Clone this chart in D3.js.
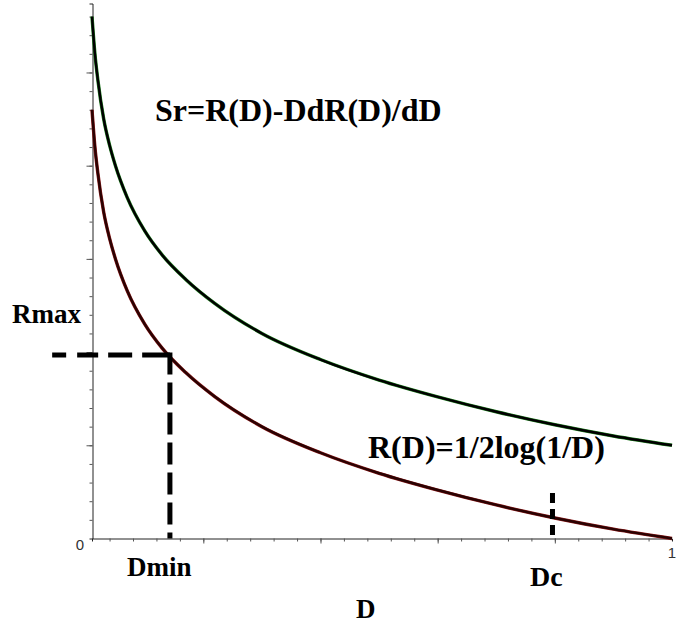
<!DOCTYPE html>
<html>
<head>
<meta charset="utf-8">
<script src="https://cdn.jsdelivr.net/npm/d3@7"></script>
<style>
  body { margin: 0; background: #fff; }
</style>
</head>
<body>
<script>
// values
var dValues  = [0.01, 0.015, 0.02, 0.03, 0.04, 0.05, 0.07, 0.1, 0.13, 0.17, 0.22, 0.3, 0.4, 0.5, 0.6, 0.7, 0.8, 0.9, 1.0];
var rValues  = [2.30, 2.10, 1.96, 1.75, 1.61, 1.50, 1.33, 1.15, 1.02, 0.89, 0.76, 0.60, 0.46, 0.35, 0.26, 0.18, 0.11, 0.05, 0.00];
var srValues = [2.80, 2.60, 2.46, 2.25, 2.11, 2.00, 1.83, 1.65, 1.52, 1.39, 1.26, 1.10, 0.96, 0.85, 0.76, 0.68, 0.61, 0.55, 0.50];

// marker positions (D, R)
var dMin = 0.143, rMax = 0.984, rMaxLineStart = -0.058;
var dC = 0.796, dCTop = 0.244;

// tick values
var xMinorTicks = d3.range(0.04, 0.99, 0.04);
var xMajorTicks = [0.2, 0.4, 0.6, 0.8];
var yMinorTicks = d3.range(0.1, 2.85, 0.1);
var yMajorTicks = [0.5, 1, 1.5, 2, 2.5];

var serif = "'Liberation Serif', 'Times New Roman', 'DejaVu Serif', serif";
var sans = "'Liberation Sans', Arial, 'DejaVu Sans', sans-serif";

var svg = d3.select("body").append("svg").attr("width", 685).attr("height", 624);

// scales
var x = d3.scaleLinear().domain([0.01, 1]).range([92, 672]);
var y = d3.scaleLinear().domain([0, 2.87]).range([538.5, 3.5]);

// x axis
svg.append("g").attr("transform", "translate(0,538.5)")
    .call(d3.axisBottom(x).tickValues(xMinorTicks).tickSize(3).tickFormat(""))
    .call(function(g) { g.select(".domain").attr("stroke", "#222"); g.selectAll(".tick line").attr("stroke", "#555"); });
svg.append("g").attr("transform", "translate(0,538.5)")
    .call(d3.axisBottom(x).tickValues(xMajorTicks).tickSize(5).tickFormat(""))
    .call(function(g) { g.select(".domain").remove(); g.selectAll(".tick line").attr("stroke", "#555"); });

// y axis
svg.append("g").attr("transform", "translate(92.5,0)")
    .call(d3.axisLeft(y).tickValues(yMinorTicks).tickSize(3).tickFormat(""))
    .call(function(g) { g.select(".domain").attr("stroke", "#222"); g.selectAll(".tick line").attr("stroke", "#555"); });
svg.append("g").attr("transform", "translate(92.5,0)")
    .call(d3.axisLeft(y).tickValues(yMajorTicks).tickSize(6).tickFormat(""))
    .call(function(g) { g.select(".domain").remove(); g.selectAll(".tick line").attr("stroke", "#555"); });

// axis numbers
svg.append("text").attr("x", 84).attr("y", 550)
    .attr("font-family", sans).attr("font-size", 15).attr("fill", "#333")
    .attr("text-anchor", "end").text("0");
svg.append("text").attr("x", x(1)).attr("y", 558)
    .attr("font-family", sans).attr("font-size", 15).attr("fill", "#333")
    .attr("text-anchor", "middle").text("1");

// curves
var line = d3.line().curve(d3.curveMonotoneX);
var rPts = dValues.map(function(d, i) { return [x(d), y(rValues[i])]; });
var sPts = dValues.map(function(d, i) { return [x(d), y(srValues[i])]; });

svg.append("path").attr("d", line(sPts)).attr("fill", "none").attr("stroke", "#1c7a1c").attr("stroke-width", 3.4);
svg.append("path").attr("d", line(sPts)).attr("fill", "none").attr("stroke", "#000").attr("stroke-width", 2.4);
svg.append("path").attr("d", line(rPts)).attr("fill", "none").attr("stroke", "#8a1a1a").attr("stroke-width", 3.4);
svg.append("path").attr("d", line(rPts)).attr("fill", "none").attr("stroke", "#2a0202").attr("stroke-width", 2.4);

// dashed marker lines
svg.append("line").attr("x1", x(rMaxLineStart)).attr("x2", x(dMin)).attr("y1", y(rMax)).attr("y2", y(rMax))
    .attr("stroke", "#000").attr("stroke-width", 5).attr("stroke-dasharray", "14,11,21,10,24,10,28");
svg.append("line").attr("x1", x(dMin)).attr("x2", x(dMin)).attr("y1", y(rMax) - 2.5).attr("y2", y(0))
    .attr("stroke", "#000").attr("stroke-width", 5).attr("stroke-dasharray", "22,8");
svg.append("line").attr("x1", x(dC)).attr("x2", x(dC)).attr("y1", y(dCTop)).attr("y2", y(0))
    .attr("stroke", "#000").attr("stroke-width", 5).attr("stroke-dasharray", "10,6");

// labels
function label(txt, px, py, size) {
    svg.append("text").attr("x", px).attr("y", py)
        .attr("font-family", serif).attr("font-weight", "bold").attr("font-size", size)
        .attr("fill", "#000").text(txt);
}
label("Sr=R(D)-DdR(D)/dD", 155, 121, 32);
label("R(D)=1/2log(1/D)", 368, 458, 32);
label("Rmax", 12, 323, 27);
label("Dmin", 127, 576, 27);
label("Dc", 530, 586, 28);
label("D", 356, 618, 27);
</script>
</body>
</html>
